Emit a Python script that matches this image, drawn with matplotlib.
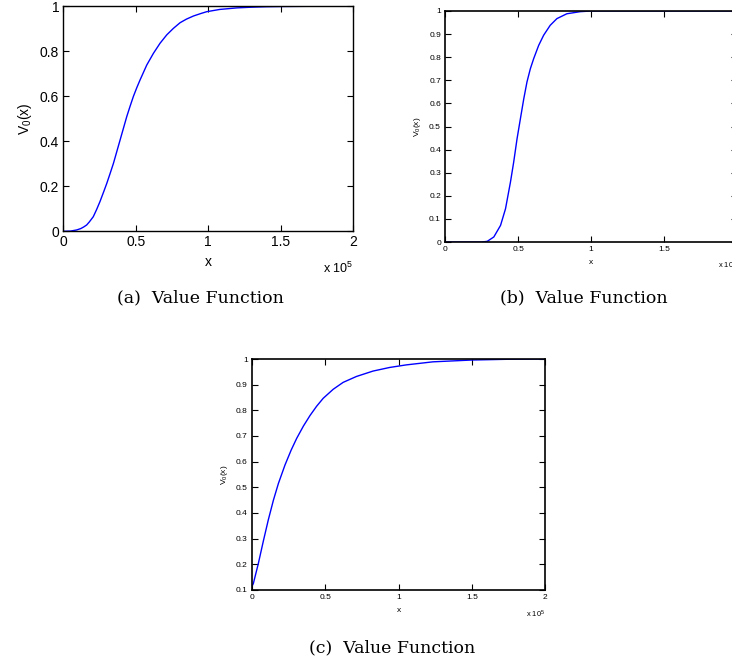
import numpy as np
import matplotlib.pyplot as plt

# Value function curves (x in units of 1e5)
xa = [0.0, 0.05, 0.092, 0.12, 0.14, 0.161, 0.18, 0.207, 0.23, 0.253, 0.28, 0.30,
      0.323, 0.346, 0.369, 0.392, 0.415, 0.438, 0.461, 0.484, 0.507, 0.53, 0.576,
      0.622, 0.668, 0.714, 0.76, 0.806, 0.85, 0.899, 0.95, 0.99, 1.08, 1.2, 1.3,
      1.4, 1.5, 1.7, 2.0]
va = [0.0, 0.001, 0.006, 0.012, 0.019, 0.028, 0.042, 0.065, 0.097, 0.132, 0.178,
      0.213, 0.257, 0.302, 0.354, 0.406, 0.458, 0.51, 0.556, 0.60, 0.638, 0.673,
      0.739, 0.791, 0.836, 0.873, 0.902, 0.927, 0.943, 0.957, 0.968, 0.976, 0.986,
      0.993, 0.996, 0.998, 0.999, 1.0, 1.0]

xb = [0.0, 0.25, 0.289, 0.334, 0.38, 0.414, 0.448, 0.47, 0.493, 0.516, 0.539,
      0.561, 0.584, 0.607, 0.641, 0.675, 0.72, 0.766, 0.834, 0.925, 1.0, 1.5, 2.0]
vb = [0.0, 0.0, 0.003, 0.022, 0.072, 0.144, 0.26, 0.346, 0.447, 0.534, 0.62,
      0.693, 0.75, 0.794, 0.851, 0.895, 0.938, 0.967, 0.988, 0.997, 1.0, 1.0, 1.0]

xc = [0.0, 0.009, 0.043, 0.077, 0.111, 0.146, 0.18, 0.225, 0.267, 0.305, 0.351,
      0.396, 0.441, 0.486, 0.554, 0.622, 0.713, 0.826, 0.939, 1.052, 1.235, 1.5,
      1.75, 2.0]
vc = [0.115, 0.125, 0.203, 0.29, 0.373, 0.45, 0.515, 0.587, 0.645, 0.691, 0.739,
      0.78, 0.816, 0.847, 0.882, 0.909, 0.932, 0.953, 0.967, 0.977, 0.989, 0.996,
      0.999, 1.0]

plt.rcParams['font.family'] = ['Liberation Sans', 'DejaVu Sans']

fig = plt.figure(figsize=(7.32, 6.62), dpi=100)


def panel(rect, x, y, yticks, ylim, fs, lw_ax, off_y):
    ax = fig.add_axes(rect)
    ax.plot(x, y, color='blue', lw=1.0)
    ax.set_xlim(0, 2)
    ax.set_ylim(*ylim)
    ax.set_xticks([0, 0.5, 1, 1.5, 2])
    ax.set_xticklabels(['0', '0.5', '1', '1.5', '2'])
    ax.set_yticks(yticks)
    ax.set_yticklabels(['%g' % t for t in yticks])
    ax.tick_params(direction='in', top=True, right=True, labelsize=fs,
                   length=4, width=0.8, pad=3)
    for s in ax.spines.values():
        s.set_linewidth(lw_ax)
    ax.set_xlabel('x', fontsize=fs)
    ax.set_ylabel(r'$\mathregular{V_0(x)}$', fontsize=fs)
    ax.text(1.0, off_y, r'x 10$^{\mathregular{5}}$', transform=ax.transAxes,
            ha='right', va='center', fontsize=fs * 0.9)
    return ax


ax_a = panel([0.0865, 0.6506, 0.3958, 0.3399], xa, va,
             [0, 0.2, 0.4, 0.6, 0.8, 1], (0, 1), 10, 1.0, -0.164)
ax_b = panel([0.608, 0.6344, 0.399, 0.349], xb, vb,
             [0, 0.1, 0.2, 0.3, 0.4, 0.5, 0.6, 0.7, 0.8, 0.9, 1], (0, 1),
             6, 1.2, -0.10)
ax_c = panel([0.3443, 0.1088, 0.4003, 0.3489], xc, vc,
             [0.1, 0.2, 0.3, 0.4, 0.5, 0.6, 0.7, 0.8, 0.9, 1], (0.1, 1),
             6, 1.2, -0.104)

cap = dict(ha='center', va='center', fontsize=12.5, family='DejaVu Serif')
fig.text(200 / 732, 1 - 298 / 662, '(a)  Value Function', **cap)
fig.text(584 / 732, 1 - 298 / 662, '(b)  Value Function', **cap)
fig.text(392 / 732, 1 - 648 / 662, '(c)  Value Function', **cap)

fig.savefig('out.png', dpi=100)
